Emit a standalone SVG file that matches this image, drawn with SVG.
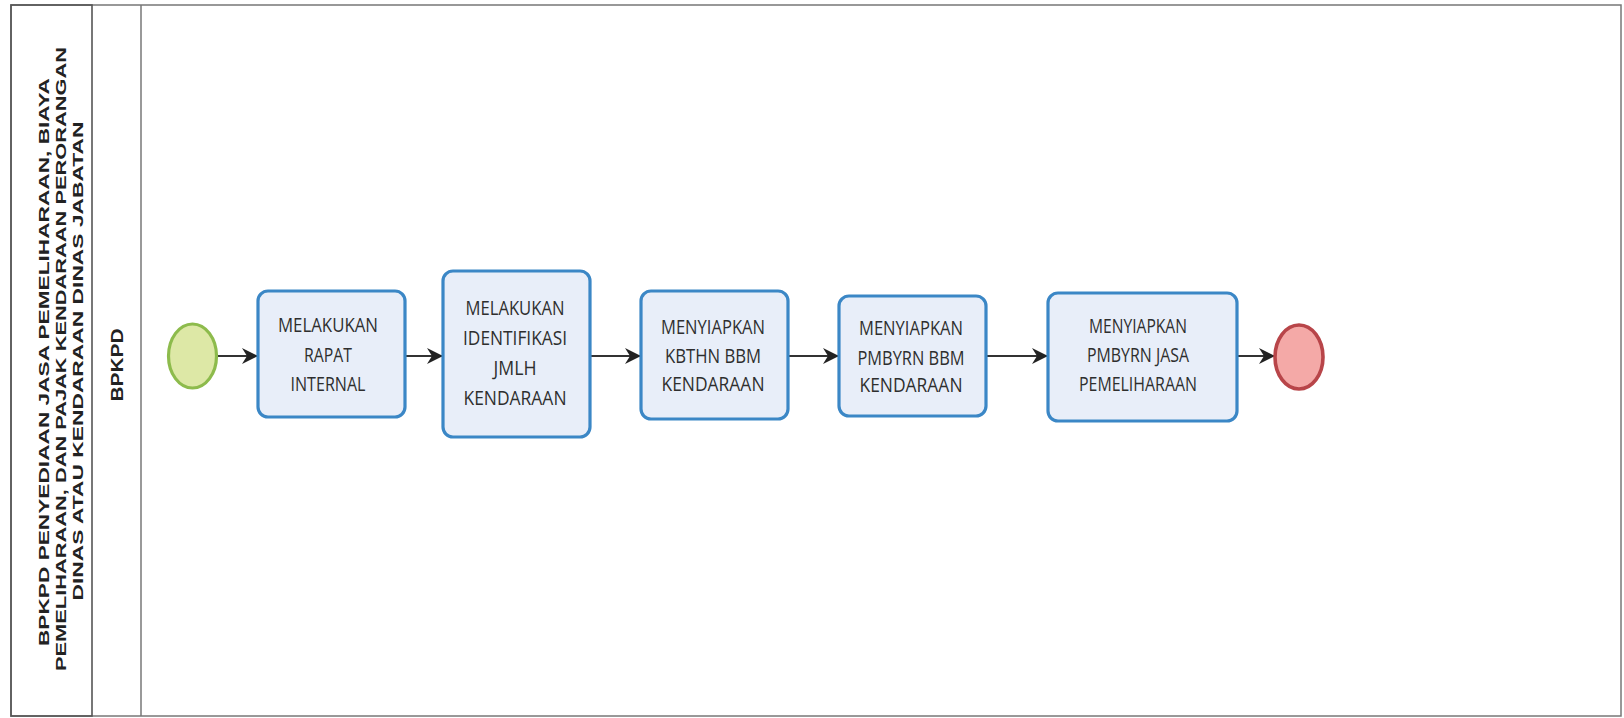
<svg xmlns="http://www.w3.org/2000/svg" width="1624" height="718" viewBox="0 0 1624 718">
<style>
.lane{fill:none;stroke:#777;stroke-width:1.5}
.hdr{fill:none;stroke:#555;stroke-width:1.6}
.ht{font-family:"Liberation Sans",Arial,sans-serif;font-weight:bold;font-size:15px;fill:#222}
.task rect{fill:#e8eef9;stroke:#3b87c6;stroke-width:3.2}
.task text{font-family:"Open Sans","Noto Sans",sans-serif;font-size:20.5px;fill:#2e2e2e;text-anchor:middle}
.conn line{stroke:#333;stroke-width:2.2}
</style>
<defs>
<marker id="ah" viewBox="0 0 16 16" refX="15" refY="8" markerWidth="16" markerHeight="16" markerUnits="userSpaceOnUse" orient="auto">
<path d="M0,0 L16,8 L0,16 L5,8 Z" fill="#222"/>
</marker>
</defs>
<rect x="0" y="0" width="1624" height="718" fill="#fff"/>
<g id="pool">
<rect class="lane" x="11" y="5" width="1610" height="711"/>
<rect class="hdr" x="11" y="5" width="81" height="711"/>
<line class="lane" x1="141" y1="5" x2="141" y2="716"/>
<text class="ht" transform="translate(49,362) rotate(-90)" text-anchor="middle" textLength="568" lengthAdjust="spacingAndGlyphs">BPKPD PENYEDIAAN JASA PEMELIHARAAN, BIAYA</text>
<text class="ht" transform="translate(66,359) rotate(-90)" text-anchor="middle" textLength="624" lengthAdjust="spacingAndGlyphs">PEMELIHARAAN, DAN PAJAK KENDARAAN PERORANGAN</text>
<text class="ht" transform="translate(83,361) rotate(-90)" text-anchor="middle" textLength="479" lengthAdjust="spacingAndGlyphs">DINAS ATAU KENDARAAN DINAS JABATAN</text>
</g>
<g id="lane-bpkpd">
<text class="ht" style="font-size:16px" transform="translate(123,365) rotate(-90)" text-anchor="middle" textLength="73" lengthAdjust="spacingAndGlyphs">BPKPD</text>
</g>
<g id="connectors" class="conn">
<line x1="217" y1="356" x2="257" y2="356" marker-end="url(#ah)"/>
<line x1="405" y1="356" x2="442" y2="356" marker-end="url(#ah)"/>
<line x1="590" y1="356" x2="640" y2="356" marker-end="url(#ah)"/>
<line x1="788" y1="356" x2="838" y2="356" marker-end="url(#ah)"/>
<line x1="986" y1="356" x2="1047" y2="356" marker-end="url(#ah)"/>
<line x1="1237" y1="356" x2="1274" y2="356" marker-end="url(#ah)"/>
</g>
<g id="start">
<ellipse cx="192.5" cy="356" rx="24" ry="32" fill="#dde8a6" stroke="#8dbb4c" stroke-width="3.2"/>
</g>
<g id="task1" class="task">
<rect x="258" y="291" width="147" height="126" rx="10"/>
<text x="328" y="332" textLength="100" lengthAdjust="spacingAndGlyphs">MELAKUKAN</text>
<text x="328" y="362" textLength="48" lengthAdjust="spacingAndGlyphs">RAPAT</text>
<text x="328" y="391" textLength="75" lengthAdjust="spacingAndGlyphs">INTERNAL</text>
</g>
<g id="task2" class="task">
<rect x="443" y="271" width="147" height="166" rx="10"/>
<text x="515" y="315" textLength="99" lengthAdjust="spacingAndGlyphs">MELAKUKAN</text>
<text x="515" y="345" textLength="104" lengthAdjust="spacingAndGlyphs">IDENTIFIKASI</text>
<text x="515" y="375" textLength="43" lengthAdjust="spacingAndGlyphs">JMLH</text>
<text x="515" y="405" textLength="103" lengthAdjust="spacingAndGlyphs">KENDARAAN</text>
</g>
<g id="task3" class="task">
<rect x="641" y="291" width="147" height="128" rx="10"/>
<text x="713" y="334" textLength="104" lengthAdjust="spacingAndGlyphs">MENYIAPKAN</text>
<text x="713" y="363" textLength="96" lengthAdjust="spacingAndGlyphs">KBTHN BBM</text>
<text x="713" y="391" textLength="103" lengthAdjust="spacingAndGlyphs">KENDARAAN</text>
</g>
<g id="task4" class="task">
<rect x="839" y="296" width="147" height="120" rx="10"/>
<text x="911" y="335" textLength="104" lengthAdjust="spacingAndGlyphs">MENYIAPKAN</text>
<text x="911" y="365" textLength="107" lengthAdjust="spacingAndGlyphs">PMBYRN BBM</text>
<text x="911" y="392" textLength="103" lengthAdjust="spacingAndGlyphs">KENDARAAN</text>
</g>
<g id="task5" class="task">
<rect x="1048" y="293" width="189" height="128" rx="10"/>
<text x="1138" y="333" textLength="98" lengthAdjust="spacingAndGlyphs">MENYIAPKAN</text>
<text x="1138" y="362" textLength="102" lengthAdjust="spacingAndGlyphs">PMBYRN JASA</text>
<text x="1138" y="391" textLength="118" lengthAdjust="spacingAndGlyphs">PEMELIHARAAN</text>
</g>
<g id="end">
<ellipse cx="1299" cy="357" rx="24" ry="32" fill="#f4a9a7" stroke="#b84549" stroke-width="3.6"/>
</g>
</svg>
